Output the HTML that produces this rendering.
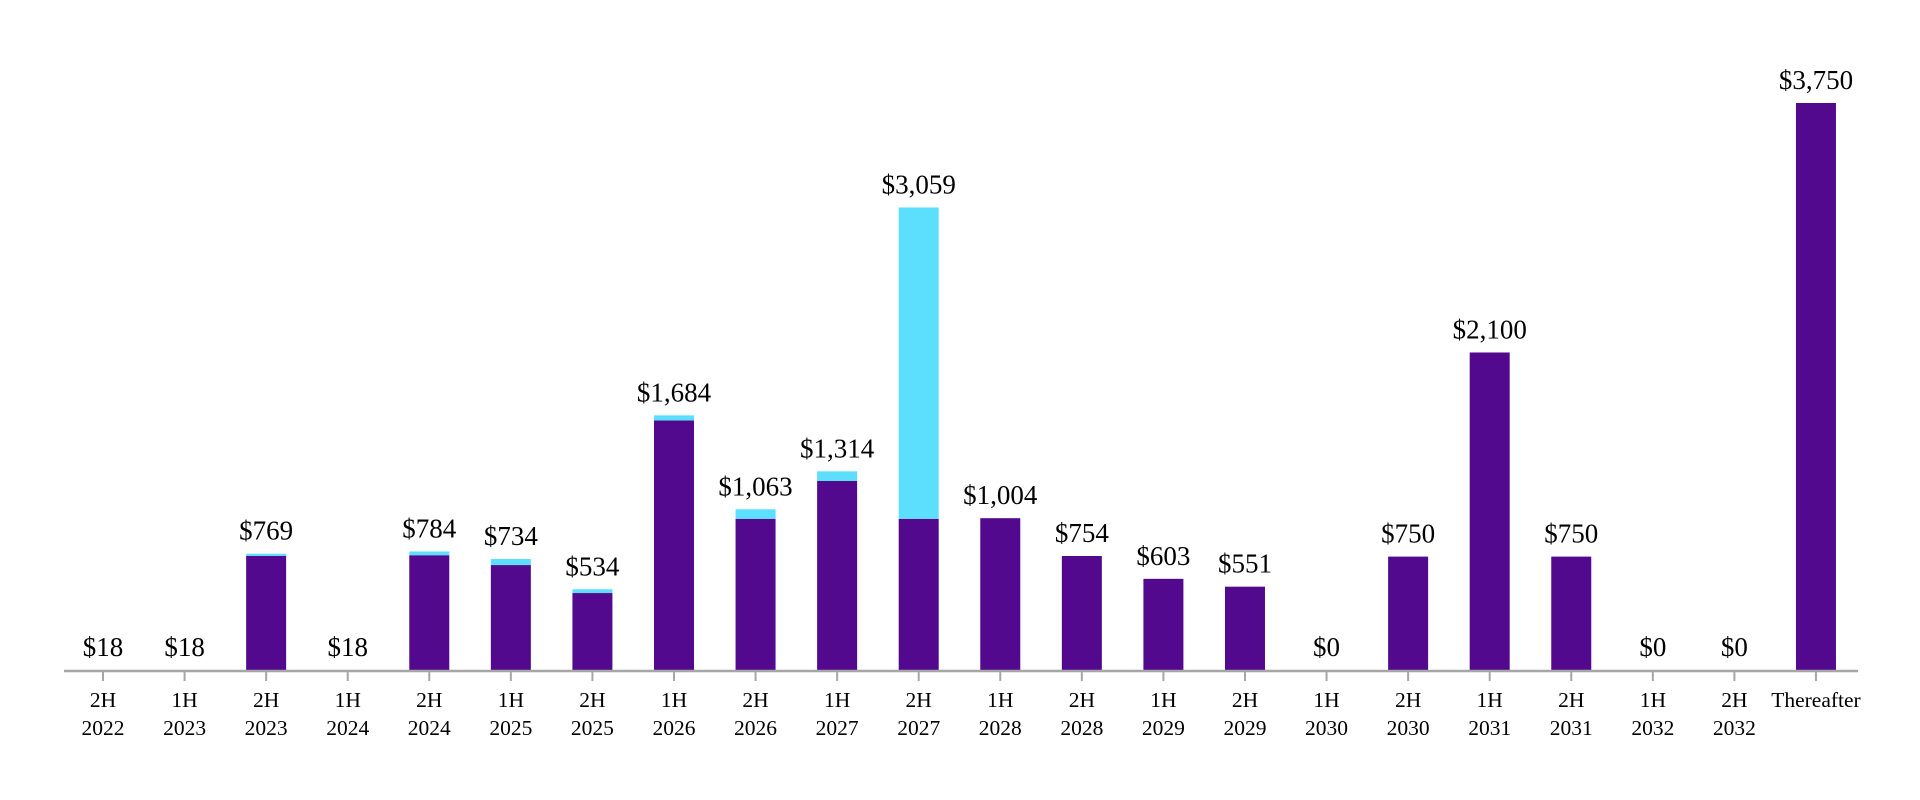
<!DOCTYPE html>
<html><head><meta charset="utf-8"><style>
html,body{margin:0;padding:0;background:#fff;}
svg{display:block;font-family:"Liberation Serif",serif;}
</style></head><body>
<svg id="chart" width="1920" height="800"></svg>
<script>
const categories=[["2H","2022"],["1H","2023"],["2H","2023"],["1H","2024"],["2H","2024"],["1H","2025"],["2H","2025"],["1H","2026"],["2H","2026"],["1H","2027"],["2H","2027"],["1H","2028"],["2H","2028"],["1H","2029"],["2H","2029"],["1H","2030"],["2H","2030"],["1H","2031"],["2H","2031"],["1H","2032"],["2H","2032"],["Thereafter"]];
const purpleValues=[0,0,755,0,759,694,509,1650,1000,1250,1000,1004,754,603,551,0,750,2100,750,0,0,3750];
const cyanValues=[0,0,14,0,25,40,25,34,63,64,2059,0,0,0,0,0,0,0,0,0,0,0];
const totalLabels=["$18","$18","$769","$18","$784","$734","$534","$1,684","$1,063","$1,314","$3,059","$1,004","$754","$603","$551","$0","$750","$2,100","$750","$0","$0","$3,750"];
const svg=document.getElementById('chart');
const NS='http://www.w3.org/2000/svg';
const baseY=670, scale=567/3750, x0=103, step=81.57, bw=40;
const xPos=i=>x0+i*step;
const yPos=v=>baseY-v*scale;
function mk(tag,attrs){const e=document.createElementNS(NS,tag);for(const k in attrs)e.setAttribute(k,attrs[k]);svg.appendChild(e);return e;}
categories.forEach((c,i)=>{
  const cx=xPos(i);
  const p=purpleValues[i], q=cyanValues[i];
  if(p>0){const r=mk('rect',{x:cx-bw/2,y:yPos(p),width:bw,height:p*scale,fill:'#52098e'});
  
  }
  if(q>0){const r=mk('rect',{x:cx-bw/2,y:yPos(p+q),width:bw,height:q*scale,fill:'#5bdffd'});
  
  }
  const t=mk('text',{x:cx,y:yPos(p+q)-14,'text-anchor':'middle','font-size':'27',fill:'#000'});
  t.textContent=totalLabels[i];
  
  
  const tk=mk('line',{x1:cx,x2:cx,y1:baseY,y2:baseY+11,stroke:'#a6a6a6','stroke-width':2});
  
  
  c.forEach((s,j)=>{const l=mk('text',{x:cx,y:(c.length===1?707:707+28*j),'text-anchor':'middle','font-size':'21.5',fill:'#000'});
    l.textContent=s;
    
    });
});
const ax=mk('line',{x1:64,x2:1858,y1:baseY+1,y2:baseY+1,stroke:'#a6a6a6','stroke-width':2.5});


</script>
</body></html>
